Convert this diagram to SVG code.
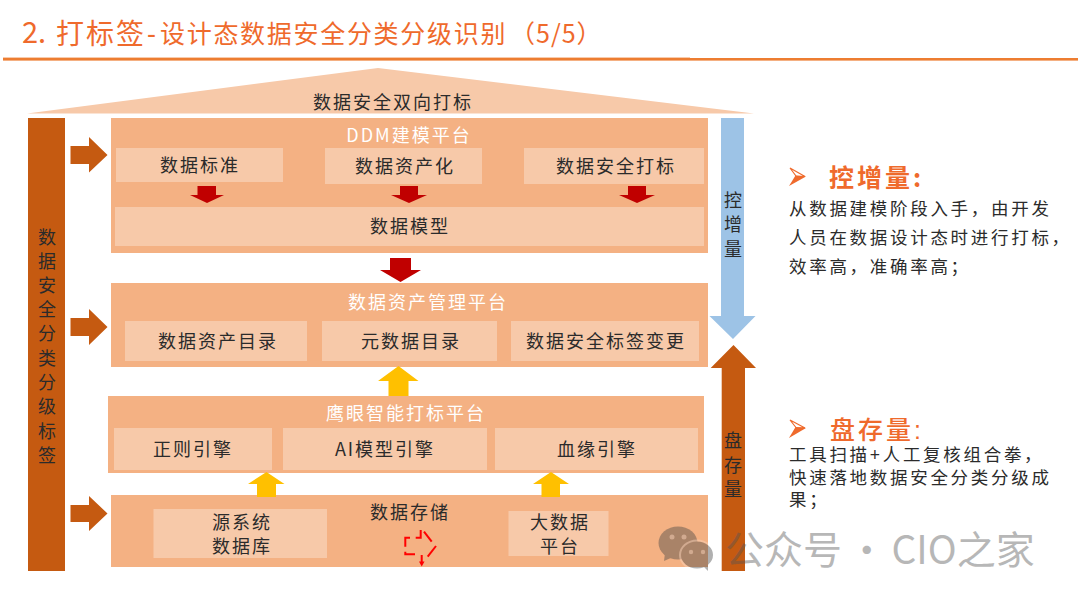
<svg xmlns="http://www.w3.org/2000/svg" width="1080" height="607" viewBox="0 0 1080 607">
<style>
text { font-family: "Noto Sans CJK SC", "Liberation Sans", sans-serif; fill: #2b2b2b; }
.panel { fill: #f4b183; }
.cell { fill: #f7c9a9; }
.c { font-size: 18px; letter-spacing: 2px; text-anchor: middle; }
.w { font-size: 18px; letter-spacing: 2px; text-anchor: middle; fill: #fff; }
.title { font-size: 25px; fill: #ef6a2c; }
.head { font-size: 25px; letter-spacing: 3px; fill: #ef6a2c; }
.body { font-size: 17.5px; letter-spacing: 2.7px; }
.tight { font-family: "Liberation Sans", "Noto Sans CJK SC", sans-serif; }
.brown { fill: #c55a11; }
.red { fill: #c00000; }
.yellow { fill: #ffc000; }
.tip { fill: #ef6a2c; }
.tip-top { fill: #fff; stroke: #ef6a2c; stroke-width: 1.2; }
</style>

<g id="page-title">
  <text class="title" x="22" y="43" style="font-size:29px">2.</text>
  <text class="title" x="56" y="44" style="font-size:28px;letter-spacing:2px">打标签</text>
  <text class="title" x="147" y="43" style="font-weight:500">-</text>
  <text class="title" x="160" y="43" style="letter-spacing:1.7px">设计态数据安全分类分级识别</text>
  <text class="title" x="510" y="43" style="letter-spacing:1px">（5/5）</text>
  <rect x="3" y="58" width="1075" height="2.6" fill="#ed7d31"/>
  <rect x="3" y="57.6" width="687" height="2" fill="#ed7d31"/>
</g>

<g id="roof">
  <polygon points="27,113.5 378,68 754,113.5" class="cell"/>
  <text class="c" x="393" y="109">数据安全双向打标</text>
</g>

<g id="label-bar">
  <rect x="28" y="118" width="37" height="453" class="brown"/>
  <text class="c" x="48" y="243.500">数</text>
  <text class="c" x="48" y="268">据</text>
  <text class="c" x="48" y="292">安</text>
  <text class="c" x="48" y="316">全</text>
  <text class="c" x="48" y="340">分</text>
  <text class="c" x="48" y="365">类</text>
  <text class="c" x="48" y="389">分</text>
  <text class="c" x="48" y="413">级</text>
  <text class="c" x="48" y="438">标</text>
  <text class="c" x="48" y="462">签</text>
</g>

<g id="ddm-platform">
  <rect x="111" y="118" width="597" height="135" class="panel"/>
  <text class="w" x="409" y="142">DDM建模平台</text>
  <rect x="116" y="148" width="167" height="34" class="cell"/>
  <text class="c" x="200" y="172">数据标准</text>
  <rect x="325" y="148" width="157" height="36" class="cell"/>
  <text class="c" x="405" y="173">数据资产化</text>
  <rect x="524" y="148" width="180" height="36" class="cell"/>
  <text class="c" x="616" y="173">数据安全打标</text>
  <rect x="115" y="207" width="589" height="39" class="cell"/>
  <text class="c" x="410" y="233">数据模型</text>
</g>

<g id="asset-platform">
  <rect x="111" y="283" width="597" height="84" class="panel"/>
  <text class="w" x="428" y="309">数据资产管理平台</text>
  <rect x="125" y="321" width="182" height="40" class="cell"/>
  <text class="c" x="218" y="348">数据资产目录</text>
  <rect x="322" y="321" width="175" height="40" class="cell"/>
  <text class="c" x="411" y="348">元数据目录</text>
  <rect x="511" y="321" width="188" height="40" class="cell"/>
  <text class="c" x="606" y="348">数据安全标签变更</text>
</g>

<g id="tagging-platform">
  <rect x="108" y="396" width="596" height="77" class="panel"/>
  <text class="w" x="406" y="420">鹰眼智能打标平台</text>
  <rect x="114" y="428" width="158" height="42" class="cell"/>
  <text class="c" x="193" y="456">正则引擎</text>
  <rect x="283" y="428" width="204" height="42" class="cell"/>
  <text class="c" x="385" y="456">AI模型引擎</text>
  <rect x="495" y="428" width="203" height="42" class="cell"/>
  <text class="c" x="597" y="456">血缘引擎</text>
</g>

<g id="data-storage">
  <rect x="111" y="495" width="597" height="72" class="panel"/>
  <text class="c" x="410" y="519">数据存储</text>
  <rect x="153.500" y="509" width="173.500" height="49" class="cell"/>
  <text class="c" x="242" y="529">源系统</text>
  <text class="c" x="242" y="553">数据库</text>
  <rect x="508.500" y="511" width="100" height="45" class="cell"/>
  <text class="c" x="560" y="529">大数据</text>
  <text class="c" x="560" y="553">平台</text>
  <g id="storage-icon" fill="none" stroke="#ff0000" stroke-width="2">
    <path d="M415.700 537.700H420.700V530"/>
    <path d="M424 531.700L431.700 541.700"/>
    <path d="M436 546L427.700 556.700"/>
    <path d="M421.700 555V563"/>
    <path d="M410 537.700H405.300V546.700"/>
    <path d="M405.300 551.700V554.300H415"/>
    <path d="M419 561.500H424.500L421.700 566.500Z" fill="#ff0000" stroke="none"/>
  </g>
</g>

<g id="connectors">
  <polygon class="brown" points="70.500,146 89,146 89,137 107.500,155 89,172.500 89,164 70.500,164"/>
  <polygon class="brown" points="70.500,318 89,318 89,309 107.500,327 89,345 89,336 70.500,336"/>
  <polygon class="brown" points="70.500,505 89,505 89,496 107.500,513.500 89,531 89,522 70.500,522"/>

  <polygon class="red" points="197.500,186 216,186 216,195 224,195 207,203 190,195 197.500,195"/>
  <polygon class="red" points="400,186 418,186 418,195 427,195 409,203 391,195 400,195"/>
  <polygon class="red" points="628,186 646,186 646,195 655,195 637,203 619,195 628,195"/>
  <polygon class="red" points="390,258 411,258 411,270 421,270 400.500,282 380,270 390,270"/>

  <polygon class="yellow" points="398.500,366 418.500,381 408.500,381 408.500,396 388.500,396 388.500,381 378,381"/>
  <polygon class="yellow" points="266.500,472 284.500,484 276,484 276,497 257,497 257,484 248,484"/>
  <polygon class="yellow" points="551,472 569,484 560,484 560,497 541.500,497 541.500,484 533,484"/>

  <g id="increment-arrow">
    <polygon fill="#9dc3e6" points="721,118 744,118 744,316 755.500,316 733,339 709.500,316 721,316"/>
    <text class="c" x="734" y="207">控</text>
    <text class="c" x="734" y="231">增</text>
    <text class="c" x="734" y="256">量</text>
  </g>
  <g id="stock-arrow">
    <polygon class="brown" points="733.500,345 756,368 745,368 745,571 721.700,571 721.700,368 710.700,368"/>
    <text class="c" x="734" y="447">盘</text>
    <text class="c" x="734" y="472">存</text>
    <text class="c" x="734" y="496">量</text>
  </g>
</g>

<g id="note-increment">
  <path class="tip-top" d="M790 168L805 176.500L796 176Z"/>
  <path class="tip" d="M789 186L806 176.500L795.500 175.500Z"/>
  <text class="head" x="829" y="187" style="font-weight:700">控增量:</text>
  <text class="body" x="789" y="215">从数据建模阶段入手，由开发</text>
  <text class="body" x="789" y="244">人员在数据设计态时进行打标，</text>
  <text class="body" x="789" y="273">效率高，准确率高；</text>
</g>

<g id="note-stock">
  <path class="tip-top" d="M790 420L805 428L796 427.500Z"/>
  <path class="tip" d="M789 438L806 428L795.500 427Z"/>
  <text class="head tight" x="830" y="439" style="font-weight:500">盘存量:</text>
  <text class="body tight" x="789" y="461">工具扫描+人工复核组合拳，</text>
  <text class="body tight" x="789" y="484">快速落地数据安全分类分级成</text>
  <text class="body tight" x="789" y="506">果；</text>
</g>

<g id="account-mark" opacity="0.42">
  <ellipse cx="678" cy="543" rx="19.500" ry="16.500" fill="#444"/>
  <path d="M665 553L664 561L673 557Z" fill="#444"/>
  <ellipse cx="697" cy="555" rx="18" ry="15.500" fill="#fff" opacity="0.5"/>
  <ellipse cx="697" cy="555" rx="16" ry="13.500" fill="#444"/>
  <path d="M703 566L708 571L708 562Z" fill="#444"/>
  <circle cx="672" cy="537" r="2.500" fill="#fff" opacity="0.5"/>
  <circle cx="684" cy="537" r="2.500" fill="#fff" opacity="0.5"/>
  <circle cx="691" cy="552" r="2.200" fill="#fff" opacity="0.5"/>
  <circle cx="703" cy="552" r="2.200" fill="#fff" opacity="0.5"/>
  <text x="725" y="564" style="font-size:39px;fill:#555;word-spacing:-3.5px">公众号 · CIO之家</text>
</g>
</svg>
